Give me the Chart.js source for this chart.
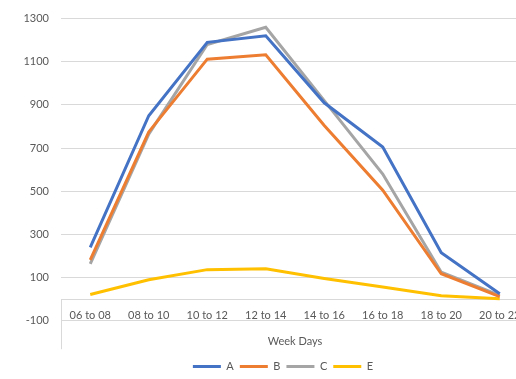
<!DOCTYPE html>
<html>
<head>
<meta charset="utf-8">
<script src="https://cdn.jsdelivr.net/npm/chart.js@4/dist/chart.umd.min.js"></script>
<style>
  html, body { margin: 0; padding: 0; background: #ffffff; overflow: hidden; }
  #wrap { width: 566px; height: 379px; }
</style>
</head>
<body>
<div id="wrap"><canvas id="chart" width="566" height="379"></canvas></div>
<script>
// Time slots on the category axis
const categories = ['06 to 08', '08 to 10', '10 to 12', '12 to 14', '14 to 16', '16 to 18', '18 to 20', '20 to 22'];

// Series values per time slot
const seriesA = [240, 850, 1190, 1220, 910, 705, 215, 25];
const seriesB = [182, 775, 1112, 1132, 805, 505, 118, 12];
const seriesC = [164, 765, 1180, 1260, 920, 580, 125, 18];
const seriesE = [22, 90, 137, 141, 96, 57, 16, 2];

// Value axis range and tick step
const yMin = -100;
const yMax = 1300;
const yStep = 200;

const seriesNames = ['A', 'B', 'C', 'E'];
const seriesColors = ['#4472C4', '#ED7D31', '#A5A5A5', '#FFC000'];
const seriesData = [seriesA, seriesB, seriesC, seriesE];

const textColor = '#595959';
const gridColor = '#d9d9d9';
const fontFamily = 'Lato, "Liberation Sans", sans-serif';
const fontSize = 11;

// Short divider under the start of the category axis
const axisStub = {
  id: 'axisStub',
  afterDraw(chart) {
    const { ctx, chartArea, scales } = chart;
    const y0 = scales.y.getPixelForValue(0);
    const x = Math.round(chartArea.left) + 0.5;
    ctx.save();
    ctx.strokeStyle = gridColor;
    ctx.lineWidth = 1;
    ctx.beginPath();
    ctx.moveTo(x, y0);
    ctx.lineTo(x, y0 + 50);
    ctx.stroke();
    ctx.restore();
  }
};

new Chart(document.getElementById('chart'), {
  type: 'line',
  data: {
    labels: categories,
    datasets: seriesData.map((d, i) => ({
      label: seriesNames[i],
      data: d,
      borderColor: seriesColors[i],
      backgroundColor: seriesColors[i],
      borderWidth: 3,
      pointRadius: 0,
      tension: 0,
      fill: false
    }))
  },
  options: {
    responsive: false,
    animation: false,
    layout: { padding: { top: 11, right: 0, bottom: -3, left: 0 } },
    plugins: {
      legend: {
        position: 'bottom',
        labels: {
          usePointStyle: true,
          pointStyle: 'line',
          pointStyleWidth: 28,
          padding: 6,
          color: textColor,
          font: { family: fontFamily, size: fontSize }
        }
      },
      tooltip: { enabled: false }
    },
    scales: {
      // category labels sit on the zero line
      x: {
        position: { y: 0 },
        offset: true,
        grid: { display: false, drawTicks: false },
        border: { display: true, color: gridColor, width: 1 },
        ticks: {
          color: textColor,
          padding: 10,
          maxRotation: 0,
          autoSkip: false,
          font: { family: fontFamily, size: fontSize }
        }
      },
      // bottom band holding the axis title
      xTitle: {
        type: 'category',
        labels: categories,
        position: 'bottom',
        offset: true,
        grid: { display: false, drawTicks: false },
        border: { display: false },
        ticks: { display: false },
        title: {
          display: true,
          text: 'Week Days',
          color: textColor,
          padding: { top: 14, bottom: 7 },
          font: { family: fontFamily, size: fontSize }
        }
      },
      y: {
        min: yMin,
        max: yMax,
        afterFit(scale) { scale.width = 61; },
        grid: { color: gridColor, drawTicks: false },
        border: { display: false },
        ticks: {
          stepSize: yStep,
          color: textColor,
          padding: 12,
          font: { family: fontFamily, size: fontSize },
          callback: (v) => String(v)
        }
      },
      // empty right-hand margin
      yRight: {
        position: 'right',
        min: yMin,
        max: yMax,
        afterFit(scale) { scale.width = 37; },
        grid: { display: false, drawTicks: false },
        border: { display: false },
        ticks: { display: false }
      }
    }
  },
  plugins: [axisStub]
});
</script>
</body>
</html>
